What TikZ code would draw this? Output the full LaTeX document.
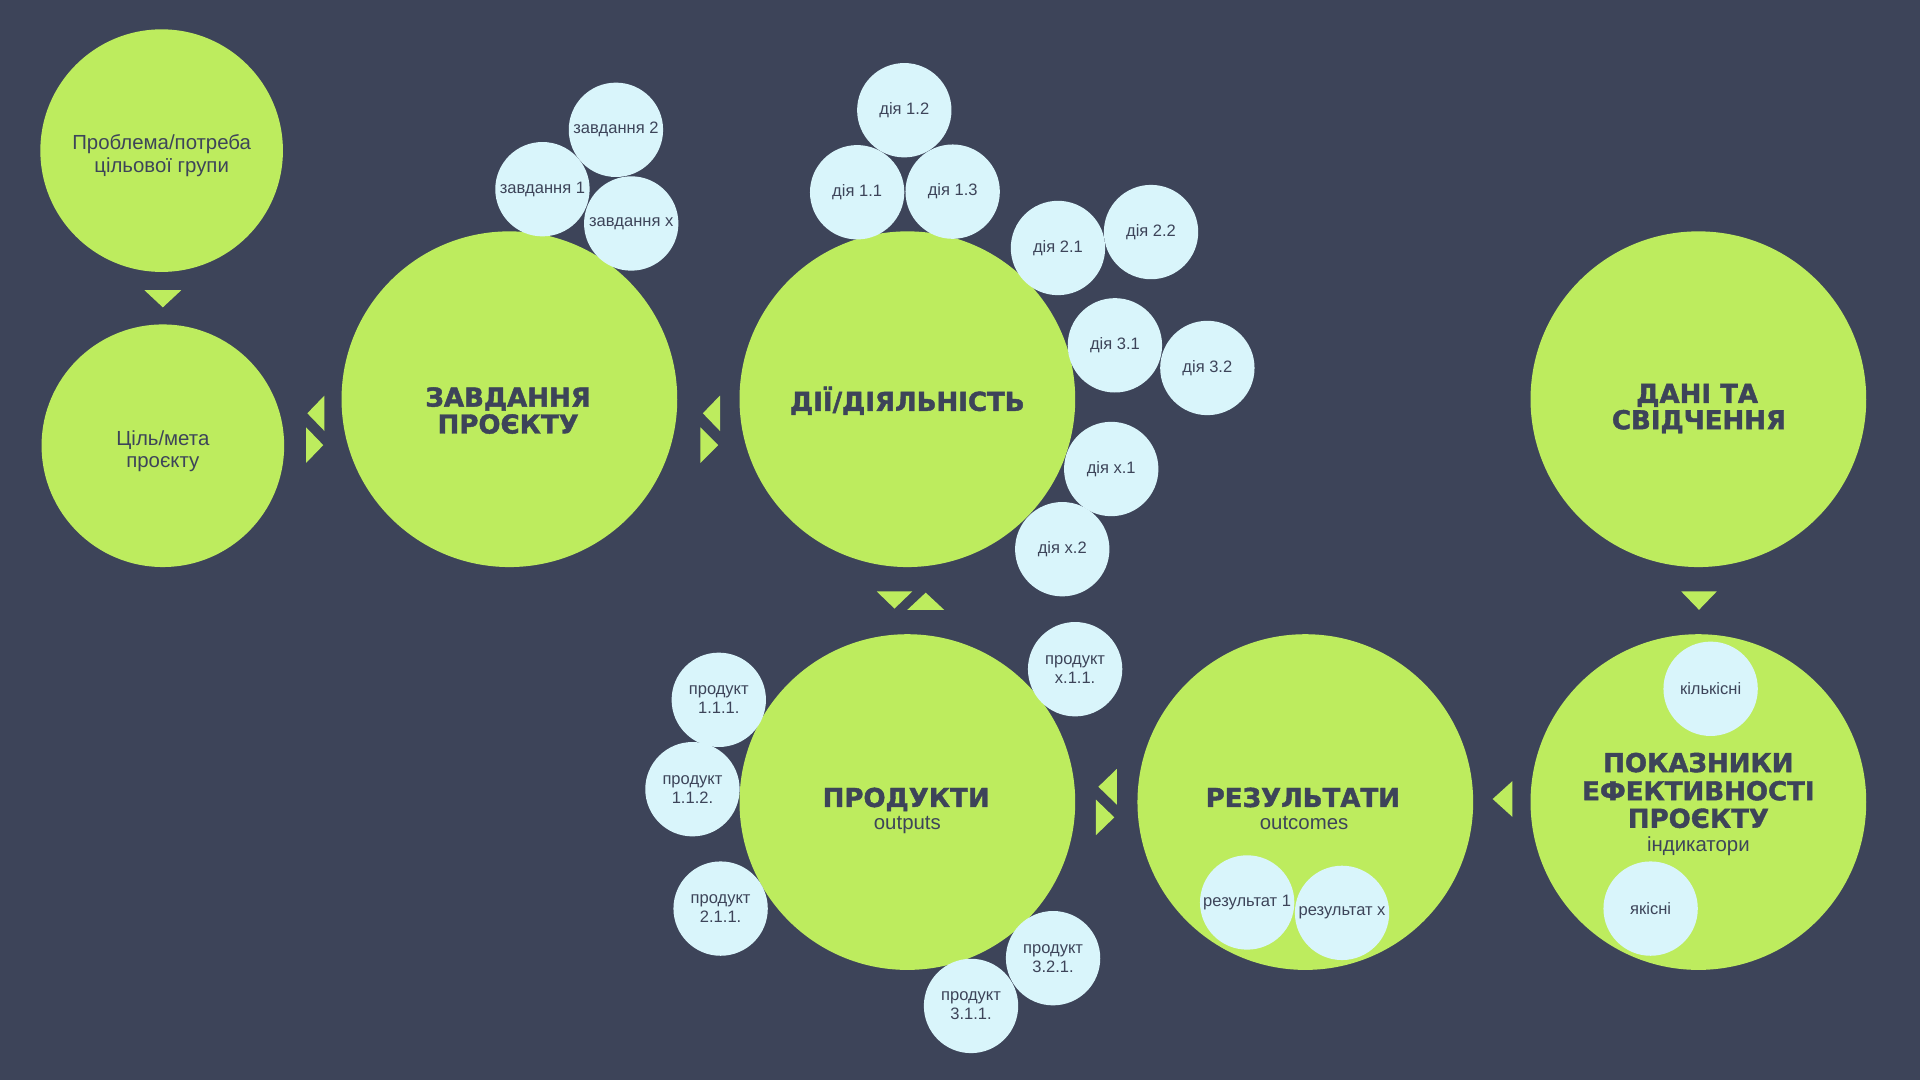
\documentclass[tikz,border=0pt]{standalone}
\usepackage{fontspec}
\setmainfont{Liberation Sans}
\newfontfamily\headfont{DejaVu Sans Bold}[FakeBold=1.6]
\definecolor{bg}{HTML}{3D4459}
\definecolor{lime}{HTML}{BDEC5E}
\definecolor{ice}{HTML}{D9F5FB}
\definecolor{ink}{HTML}{3D4459}
\begin{document}
\begin{tikzpicture}[x=0.012245cm,y=-0.012245cm,
  big/.style={circle,fill=lime,minimum size=3.355cm,inner sep=0pt},
  mid/.style={circle,fill=lime,minimum size=2.4245cm,inner sep=0pt},
  sub/.style={circle,fill=ice,minimum size=0.943cm,inner sep=0pt,text=ink,align=center,font=\fontsize{4.7pt}{5.4pt}\selectfont},
  head/.style={anchor=base,text=ink,inner sep=0pt,font=\headfont\fontsize{7.4pt}{8pt}\selectfont},
  body/.style={anchor=base,text=ink,inner sep=0pt,font=\fontsize{5.8pt}{6.6pt}\selectfont},
  tri/.style={fill=lime}]
\fill[bg] (0,0) rectangle (1568,882);
\useasboundingbox (0,0) rectangle (1568,882);

% main circles
\node[mid] (problem) at (132,123) {};
\node[mid] (goal) at (133,364) {};
\node[big] (tasks) at (416,326) {};
\node[big] (acts) at (741,326) {};
\node[big] (data) at (1387,326) {};
\node[big] (prod) at (741,655) {};
\node[big] (res) at (1066,655) {};
\node[big] (ind) at (1387,655) {};

% texts of main circles
\node[body] (problemA) at (132,122) {Проблема/потреба};
\node[body] (problemB) at (132,141) {цільової групи};
\node[body] (goalA) at (133,363.5) {Ціль/мета};
\node[body] (goalB) at (133,382) {проєкту};

\node[head] (tasksA) at (415,332) {ЗАВДАННЯ};
\node[head] (tasksB) at (415,354) {ПРОЄКТУ};
\node[head] (actsA) at (741,335.5) {ДІЇ/ДІЯЛЬНІСТЬ};
\node[head] (dataA) at (1386,329) {ДАНІ ТА};
\node[head] (dataB) at (1387.5,350.5) {СВІДЧЕННЯ};
\node[head] (prodA) at (740,659) {ПРОДУКТИ};
\node[body] (prodB) at (741,677.5) {outputs};
\node[head] (resA) at (1064,659) {РЕЗУЛЬТАТИ};
\node[body] (resB) at (1065,677.5) {outcomes};
\node[head] (indA) at (1387,630.5) {ПОКАЗНИКИ};
\node[head] (indB) at (1387,653.5) {ЕФЕКТИВНОСТІ};
\node[head] (indC) at (1387,676) {ПРОЄКТУ};
\node[body] (indD) at (1387,695.5) {індикатори};

% connector triangles
\fill[tri] (118,237) -- (148,237) -- (133,251) -- cycle;
\fill[tri] (265,323) -- (265,352) -- (251,337.5) -- cycle;
\fill[tri] (250,349) -- (250,378) -- (264,363.5) -- cycle;
\fill[tri] (588,323) -- (588,352) -- (574,337.5) -- cycle;
\fill[tri] (572,349) -- (572,378) -- (586.5,363.5) -- cycle;
\fill[tri] (716,483) -- (745,483) -- (730.5,497) -- cycle;
\fill[tri] (741,498) -- (771,498) -- (756,484) -- cycle;
\fill[tri] (912,628) -- (912,657) -- (897,642.5) -- cycle;
\fill[tri] (895,653) -- (895,682) -- (910,667.5) -- cycle;
\fill[tri] (1235,638) -- (1235,667) -- (1219,652.5) -- cycle;
\fill[tri] (1373,483) -- (1402,483) -- (1387.5,498) -- cycle;

% sub circles: tasks
\node[sub] (t2) at (503,106) {завдання 2};
\node[sub] (t1) at (443,154.5) {завдання 1};
\node[sub] (tx) at (515.5,182.5) {завдання x};
% activities
\node[sub] (a12) at (738.5,90) {дія 1.2};
\node[sub] (a11) at (700,157) {дія 1.1};
\node[sub] (a13) at (778,156.5) {дія 1.3};
\node[sub] (a21) at (864,202.5) {дія 2.1};
\node[sub] (a22) at (940,189.5) {дія 2.2};
\node[sub] (a31) at (910.5,282) {дія 3.1};
\node[sub] (a32) at (986,300.5) {дія 3.2};
\node[sub] (ax1) at (907.5,383) {дія x.1};
\node[sub] (ax2) at (867.5,448.5) {дія x.2};
% products
\node[sub] (px11) at (878,546.5) {продукт\\x.1.1.};
\node[sub] (p111) at (587,571.5) {продукт\\1.1.1.};
\node[sub] (p112) at (565.5,644.5) {продукт\\1.1.2.};
\node[sub] (p211) at (588.5,742) {продукт\\2.1.1.};
\node[sub] (p321) at (860,782.5) {продукт\\3.2.1.};
\node[sub] (p311) at (793,821.5) {продукт\\3.1.1.};
% results
\node[sub] (r1) at (1018.5,737) {результат 1};
\node[sub] (rx) at (1096,745.5) {результат x};
% indicators
\node[sub] (iq) at (1397,562.5) {кількісні};
\node[sub] (il) at (1348,742) {якісні};
\end{tikzpicture}
\end{document}
